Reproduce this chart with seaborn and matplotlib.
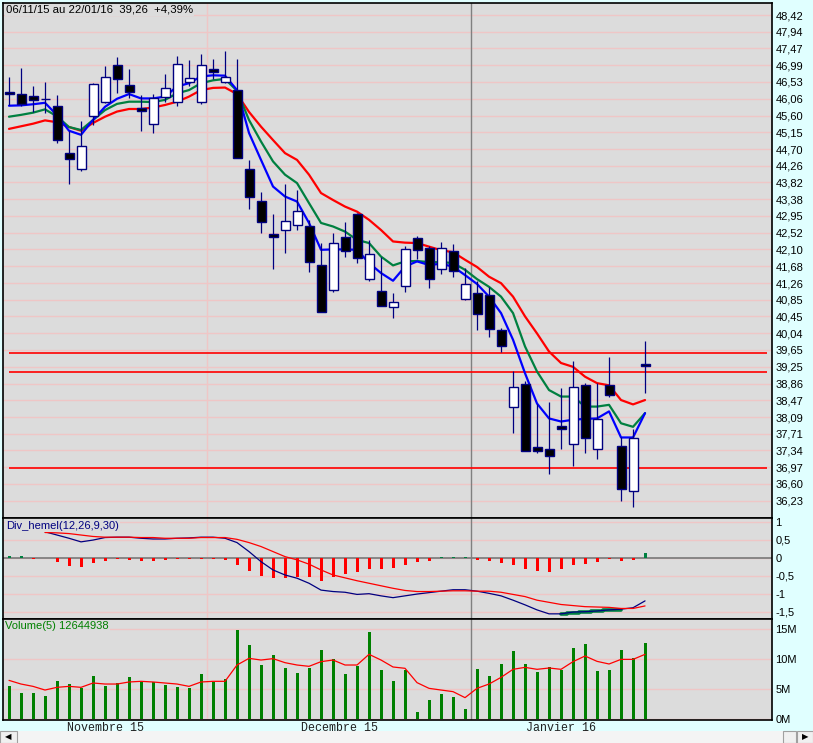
import numpy as np
import pandas as pd
import matplotlib
matplotlib.use("Agg")
import matplotlib.pyplot as plt
from matplotlib.ticker import NullLocator, NullFormatter
from matplotlib.patches import Rectangle
import seaborn as sns

# cours journaliers 06/11/15 -> 22/01/16
opens = [46.25, 46.19, 46.13, 46.05, 45.85, 44.59, 44.17, 45.58, 45.96, 46.99,
         46.45, 45.80, 45.37, 46.12, 45.98, 46.52, 45.98, 46.88, 46.51, 46.29,
         44.17, 43.33, 42.49, 42.58, 42.71, 42.69, 41.71, 41.08, 42.41, 43.00,
         41.36, 41.07, 40.68, 41.20, 42.38, 42.13, 41.60, 42.05, 40.86, 41.03,
         40.98, 40.12, 38.31, 38.84, 37.41, 37.37, 37.88, 37.48, 38.82, 37.37,
         38.82, 37.43, 36.44, 39.31]
highs = [46.65, 46.92, 46.42, 46.53, 46.16, 45.19, 45.45, 46.49, 46.97, 47.22,
         46.89, 46.16, 46.19, 46.75, 47.25, 47.14, 47.30, 47.17, 47.40, 47.17,
         44.41, 43.56, 43.00, 43.78, 43.63, 42.85, 42.27, 42.51, 42.79, 43.02,
         42.34, 41.90, 41.03, 42.19, 42.44, 42.19, 42.29, 42.24, 41.64, 41.32,
         41.17, 40.17, 39.16, 38.91, 38.40, 38.43, 38.75, 39.39, 38.87, 38.87,
         39.47, 37.63, 37.82, 39.86]
lows = [45.89, 45.86, 45.71, 45.68, 44.85, 43.78, 44.11, 45.34, 45.95, 46.21,
        46.08, 45.19, 45.14, 45.96, 45.87, 46.40, 45.93, 46.61, 46.49, 44.45,
        43.12, 42.51, 41.60, 42.01, 42.58, 41.54, 40.55, 41.05, 41.90, 41.76,
        41.32, 40.70, 40.41, 41.05, 41.86, 41.15, 41.49, 41.42, 40.85, 40.12,
        39.95, 39.60, 37.73, 37.33, 37.28, 36.82, 37.38, 36.99, 37.28, 37.16,
        38.55, 36.24, 36.11, 38.65]
closes = [46.19, 45.91, 46.02, 46.05, 44.94, 44.43, 44.78, 46.47, 46.67, 46.60,
          46.24, 45.73, 46.07, 46.35, 47.02, 46.63, 46.99, 46.79, 46.66, 44.46,
          43.43, 42.80, 42.41, 42.82, 43.07, 41.78, 40.56, 42.26, 42.06, 41.88,
          41.99, 40.70, 40.80, 42.12, 42.08, 41.36, 42.13, 41.55, 41.23, 40.51,
          40.14, 39.74, 38.77, 37.33, 37.33, 37.22, 37.82, 38.79, 37.61, 38.05,
          38.59, 36.49, 37.61, 39.26]

# moyennes mobiles
ma_blue = [45.87, 45.88, 45.91, 45.95, 45.61, 45.19, 45.08, 45.48, 45.84, 46.06,
           46.19, 46.07, 46.07, 46.12, 46.40, 46.49, 46.68, 46.71, 46.70, 46.30,
           45.13, 44.41, 43.71, 43.45, 43.32, 42.77, 42.09, 42.10, 42.10, 42.09,
           41.76, 41.51, 41.32, 41.67, 41.80, 41.71, 41.74, 41.67, 41.46, 41.24,
           40.93, 40.53, 39.89, 39.10, 38.40, 38.06, 37.99, 38.03, 38.05, 38.06,
           38.22, 37.63, 37.63, 38.18]
ma_green = [45.57, 45.62, 45.68, 45.77, 45.58, 45.29, 45.21, 45.48, 45.75, 45.92,
            45.98, 45.98, 45.97, 46.03, 46.21, 46.30, 46.49, 46.57, 46.61, 46.28,
            45.48, 44.90, 44.37, 44.02, 43.80, 43.28, 42.77, 42.68, 42.55, 42.34,
            42.26, 41.92, 41.70, 41.80, 41.81, 41.78, 41.78, 41.76, 41.59, 41.36,
            41.17, 40.93, 40.53, 39.73, 39.14, 38.71, 38.56, 38.56, 38.33, 38.33,
            38.37, 37.95, 37.87, 38.18]
ma_red = [45.24, 45.31, 45.38, 45.47, 45.42, 45.29, 45.19, 45.40, 45.57, 45.71,
          45.78, 45.78, 45.82, 45.89, 45.98, 46.12, 46.30, 46.36, 46.37, 46.19,
          45.70, 45.30, 44.94, 44.59, 44.41, 44.02, 43.54, 43.36, 43.19, 43.06,
          42.85, 42.59, 42.30, 42.27, 42.26, 42.17, 42.08, 42.03, 41.84, 41.66,
          41.42, 41.26, 40.93, 40.45, 40.04, 39.61, 39.34, 39.25, 39.02, 38.87,
          38.82, 38.48, 38.38, 38.48]

# lignes horizontales tracees
levels = [39.58, 39.13, 36.96]

# Div_hemel(12,26,9,30) - commence au 4e jour
div_line = [0.72, 0.63, 0.54, 0.44, 0.49, 0.56, 0.57, 0.57, 0.54, 0.52,
            0.52, 0.54, 0.55, 0.57, 0.57, 0.54, 0.42, 0.17, -0.11, -0.34,
            -0.48, -0.57, -0.71, -0.90, -0.94, -0.96, -1.02, -1.00, -1.06, -1.11,
            -1.06, -1.01, -0.97, -0.93, -0.89, -0.89, -0.93, -0.99, -1.06, -1.18,
            -1.31, -1.45, -1.56, -1.56, -1.51, -1.50, -1.48, -1.45, -1.43, -1.39,
            -1.20]
div_signal = [0.70, 0.69, 0.67, 0.63, 0.59, 0.57, 0.57, 0.57, 0.56, 0.56,
              0.54, 0.54, 0.54, 0.56, 0.56, 0.56, 0.51, 0.42, 0.31, 0.17,
              0.03, -0.06, -0.18, -0.34, -0.48, -0.56, -0.64, -0.71, -0.78, -0.85,
              -0.91, -0.94, -0.94, -0.93, -0.92, -0.92, -0.93, -0.93, -0.96, -1.02,
              -1.08, -1.18, -1.24, -1.30, -1.33, -1.36, -1.37, -1.38, -1.41, -1.41,
              -1.34]
div_hist = [0.06, 0.04, -0.03, -0.02, -0.11, -0.23, -0.26, -0.15, -0.08, -0.04,
            -0.05, -0.08, -0.08, -0.06, -0.03, -0.03, -0.03, -0.03, -0.06, -0.20,
            -0.36, -0.51, -0.57, -0.57, -0.54, -0.55, -0.64, -0.53, -0.45, -0.39,
            -0.31, -0.32, -0.29, -0.20, -0.11, -0.08, 0.02, 0.02, 0.03, -0.05,
            -0.08, -0.14, -0.20, -0.32, -0.36, -0.39, -0.32, -0.20, -0.17, -0.11,
            -0.03, -0.08, -0.05, 0.14]
div_green = [-1.56, -1.54, -1.51, -1.48, -1.46, -1.44]  # jours 46 a 51

# volumes en millions
volume = [5.5, 4.33, 4.33, 3.83, 6.33, 5.83, 5.22, 7.17, 5.5, 6.0,
          7.0, 6.17, 6.17, 5.67, 5.33, 5.22, 7.5, 6.2, 6.67, 14.83,
          12.33, 9.0, 10.67, 8.5, 7.67, 8.5, 11.5, 10.0, 7.5, 8.83,
          14.5, 8.17, 6.33, 8.17, 1.17, 3.17, 4.17, 3.67, 1.67, 8.33,
          7.17, 9.17, 11.33, 9.17, 7.83, 8.67, 8.17, 11.83, 12.5, 8.0,
          8.17, 11.5, 10.17, 12.64]
volume_ma = [6.44, 5.83, 5.44, 4.83, 5.28, 5.44, 5.28, 6.0, 5.83, 5.83,
             6.17, 6.28, 6.17, 6.0, 5.83, 5.44, 6.17, 6.28, 6.28, 9.0,
             10.11, 9.83, 10.06, 9.39, 9.0, 8.78, 9.56, 9.83, 9.0, 9.0,
             10.78, 9.83, 8.67, 8.45, 6.06, 5.11, 4.83, 4.56, 3.56, 5.11,
             5.83, 6.94, 8.28, 8.61, 8.28, 8.5, 8.28, 9.56, 10.5, 9.61,
             9.17, 9.94, 9.94, 10.78]

months = ["Novembre 15", "Decembre 15", "Janvier 16"]
days_per_month = [17, 22, 15]

price_ticks = ["48,42", "47,94", "47,47", "46,99", "46,53", "46,06", "45,60", "45,15",
               "44,70", "44,26", "43,82", "43,38", "42,95", "42,52", "42,10", "41,68",
               "41,26", "40,85", "40,45", "40,04", "39,65", "39,25", "38,86", "38,47",
               "38,09", "37,71", "37,34", "36,97", "36,60", "36,23"]
div_ticks = ["1", "0,5", "0", "-0,5", "-1", "-1,5"]
vol_ticks = ["15M", "10M", "5M", "0M"]

title = "06/11/15 au 22/01/16  39,26  +4,39%"
div_title = "Div_hemel(12,26,9,30)"
vol_title = "Volume(5) 12644938"

sns.set_style("white")
plt.rcParams['font.family'] = ['Liberation Sans', 'DejaVu Sans']
plt.rcParams['patch.force_edgecolor'] = False

BG = '#DCDCDC'
GRID = '#EFC6C6'
CYAN = '#E0FFFF'
NAVY = '#000080'

W, H = 813, 743
fig = plt.figure(figsize=(W / 100, H / 100), dpi=100, facecolor=CYAN)


def box(x0, y0, x1, y1):
    return [x0 / W, 1 - y1 / H, (x1 - x0) / W, (y1 - y0) / H]


ax = fig.add_axes(box(3, 3, 772, 518))
ax_div = fig.add_axes(box(3, 518, 772, 619))
ax_vol = fig.add_axes(box(3, 619, 772, 720))

df = pd.DataFrame({"open": opens, "high": highs, "low": lows, "close": closes})
df["x"] = np.arange(len(df))
x = df["x"].values

# limites de mois
ends = np.cumsum(days_per_month)
starts = ends - np.array(days_per_month)
centers = starts + (np.array(days_per_month) - 1) / 2
bounds = ends[:-1] - 0.5

for a in (ax, ax_div, ax_vol):
    a.set_facecolor(BG)
    a.set_xlim(-0.5, 63.58)
    for s in a.spines.values():
        s.set_color("black")
        s.set_linewidth(1.2)
    a.yaxis.tick_right()
    a.tick_params(axis="y", length=0, pad=2.5, labelsize=8, labelcolor="black")
    a.tick_params(axis="x", length=0)
    a.set_xticks([])
    a.grid(True, axis="y", color=GRID, lw=1)
    a.set_axisbelow(True)
    a.axvline(bounds[0], color=GRID, lw=1, zorder=1)
    a.axvline(bounds[1], color="#808080", lw=1, zorder=1)

# ---- panneau principal (echelle log)
ax.set_yscale("log")
tick_vals = [float(t.replace(",", ".")) for t in price_ticks]
ax.set_yticks(tick_vals, price_ticks)
ax.yaxis.set_minor_locator(NullLocator())
ax.yaxis.set_minor_formatter(NullFormatter())
ax.set_ylim(35.864, 48.77)

ax.hlines(levels, 0, 63.15, color="#FF0000", lw=1.2, zorder=2)

for vals, col in [(ma_red, "#FF0000"), (ma_green, "#008040"), (ma_blue, "#0000FF")]:
    sns.lineplot(x=x, y=vals, ax=ax, color=col, lw=1.6, zorder=3)

up = df["close"] >= df["open"]
ax.vlines(x, df["low"], df["high"], color=NAVY, lw=0.9, zorder=4)
ax.bar(x, (df["close"] - df["open"]).abs(), bottom=np.minimum(df["open"], df["close"]),
       width=0.75, color=np.where(up, "white", "black"), edgecolor=NAVY, linewidth=1.0, zorder=5)
ax.set_ylabel("")

ax.annotate(title, xy=(0, 1), xycoords="axes fraction", xytext=(3, -2),
            textcoords="offset pixels", ha="left", va="top", fontsize=8.2, color="black",
            bbox=dict(boxstyle="square,pad=0.1", fc=BG, ec="none"), zorder=10)

# ---- Div_hemel
ax_div.set_yticks([float(t.replace(",", ".")) for t in div_ticks], div_ticks)
ax_div.set_ylim(-1.703, 1.103)
ax_div.axhline(0, color="#808080", lw=1.3, zorder=2)
hist = np.array(div_hist)
ax_div.bar(x, hist, width=0.25, color=np.where(hist >= 0, "#008040", "#FF0000"),
           edgecolor="none", linewidth=0, zorder=3)
xd = x[3:]
sns.lineplot(x=x[46:52], y=div_green, ax=ax_div, color="#008040", lw=2.6,
             drawstyle="steps-mid", zorder=3)
sns.lineplot(x=xd, y=div_line, ax=ax_div, color=NAVY, lw=0.9, zorder=4)
sns.lineplot(x=xd, y=div_signal, ax=ax_div, color="#FF0000", lw=0.9, zorder=5)
ax_div.set_ylabel("")
ax_div.annotate(div_title, xy=(0, 1), xycoords="axes fraction", xytext=(3, -3),
                textcoords="offset pixels", ha="left", va="top", fontsize=8, color=NAVY,
                bbox=dict(boxstyle="square,pad=0.1", fc=BG, ec="none"), zorder=10)

# ---- volume
ax_vol.set_yticks([15, 10, 5, 0], vol_ticks)
ax_vol.set_ylim(-0.167, 16.67)
ax_vol.bar(x, volume, width=0.25, color="#008000", edgecolor="none", linewidth=0, zorder=3)
sns.lineplot(x=x, y=volume_ma, ax=ax_vol, color="#FF0000", lw=0.9, zorder=4)
ax_vol.set_ylabel("")
ax_vol.set_xticks(centers, months, fontfamily="Liberation Mono", fontsize=8.4, color="#202020")
ax_vol.tick_params(axis="x", length=0, pad=1.5)
ax_vol.annotate(vol_title, xy=(0, 1), xycoords="axes fraction", xytext=(2, -2),
                textcoords="offset pixels", ha="left", va="top", fontsize=8, color="#008000",
                bbox=dict(boxstyle="square,pad=0.1", fc=BG, ec="none"), zorder=10)

# barre de defilement en bas
fig.patches.append(Rectangle((0, 0), 1, 12 / H, transform=fig.transFigure,
                             fc="#F4F4F4", ec="none"))
fig.patches.append(Rectangle((0, 0), 17 / W, 12 / H, transform=fig.transFigure,
                             fc="#F0F0F0", ec="#A0A0A0", lw=0.8))
fig.patches.append(Rectangle((783 / W, 0), 13 / W, 12 / H, transform=fig.transFigure,
                             fc="#F0F0F0", ec="#A0A0A0", lw=0.8))
fig.patches.append(Rectangle((797 / W, 0), 16 / W, 12 / H, transform=fig.transFigure,
                             fc="#F0F0F0", ec="#A0A0A0", lw=0.8))
fig.text(8 / W, 6 / H, "\u25c0", ha="center", va="center", fontsize=6,
         family=["DejaVu Sans"], color="black")
fig.text(805 / W, 6 / H, "\u25b6", ha="center", va="center", fontsize=6,
         family=["DejaVu Sans"], color="black")

plt.savefig("out.png", dpi=100, facecolor=fig.get_facecolor())
